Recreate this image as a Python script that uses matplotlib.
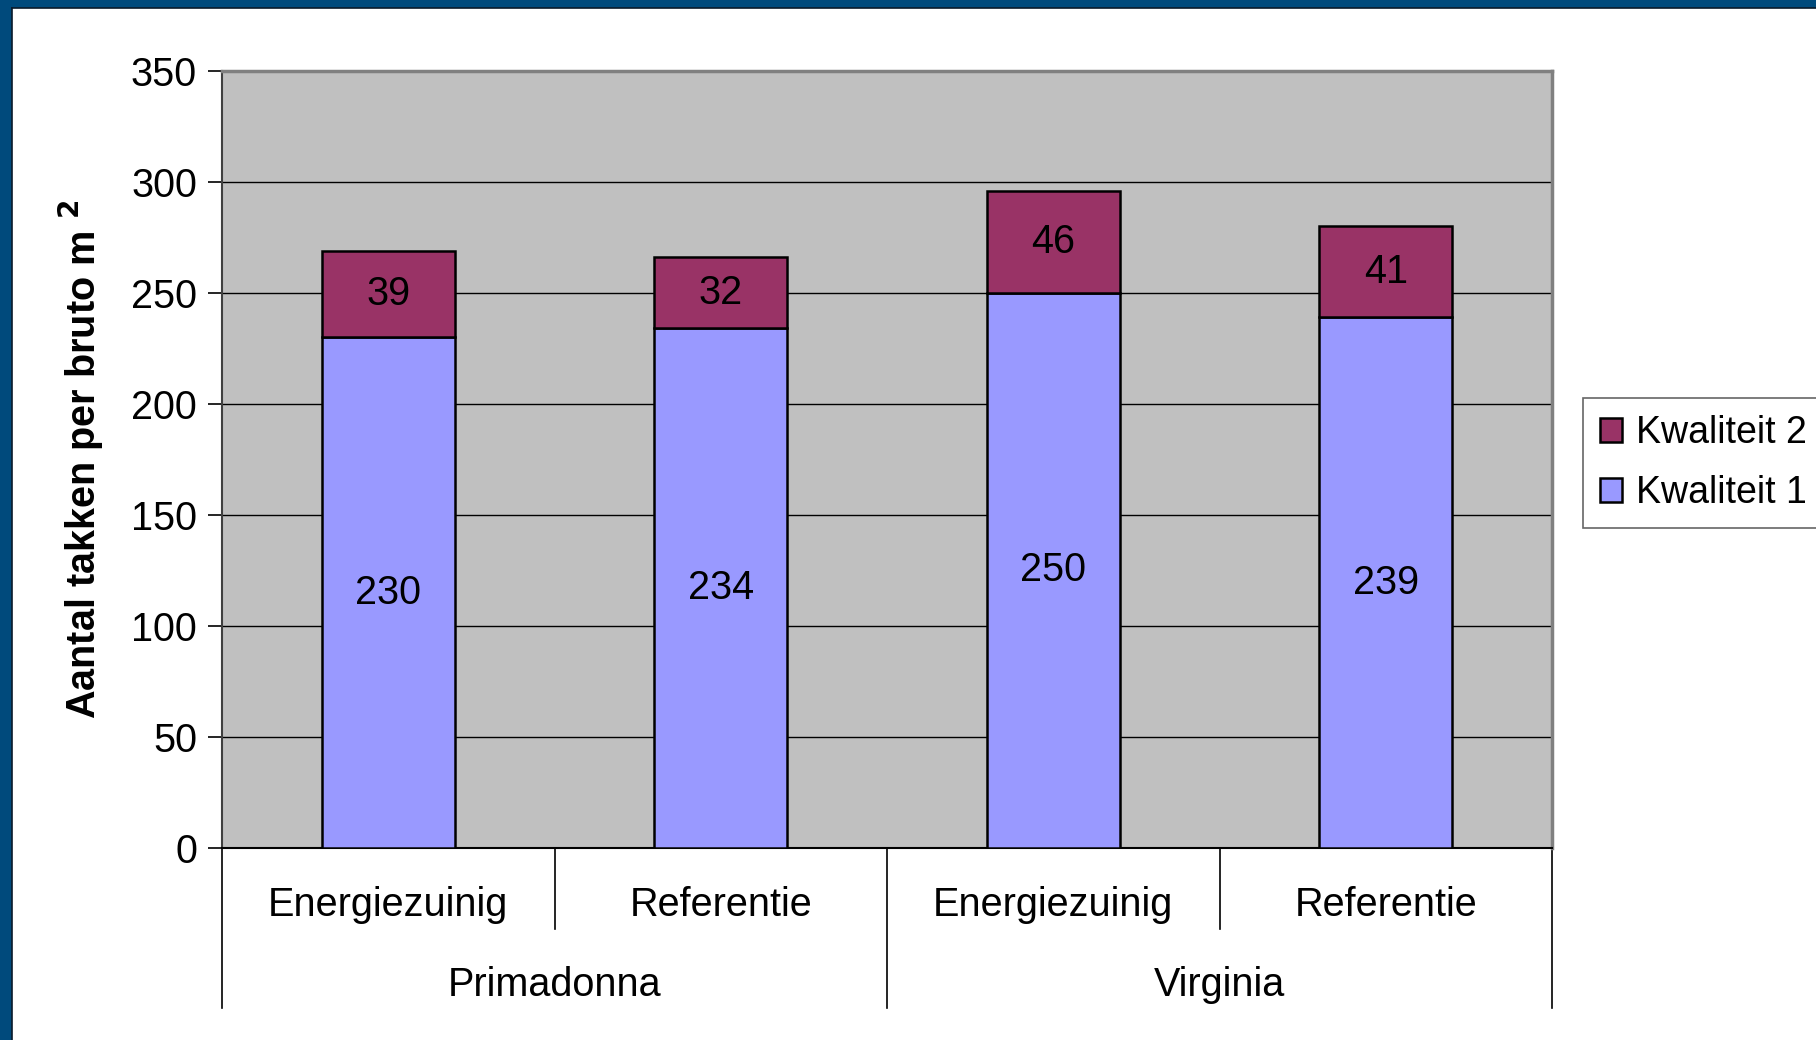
import matplotlib
matplotlib.use("Agg")
import matplotlib.pyplot as plt
import matplotlib.transforms as mtransforms
from matplotlib.patches import Rectangle
import numpy as np

plt.rcParams['font.family'] = ['Liberation Sans', 'DejaVu Sans']

treatments = ["Energiezuinig", "Referentie", "Energiezuinig", "Referentie"]
varieties = ["Primadonna", "Virginia"]
kwaliteit1 = [230, 234, 250, 239]
kwaliteit2 = [39, 32, 46, 41]
series_names = ["Kwaliteit 1", "Kwaliteit 2"]
ylabel = "Aantal takken per bruto m $^{\\mathbf{2}}$"

FS = 28.5
W, H = 1816, 1040
fig = plt.figure(figsize=(W / 100, H / 100), dpi=100)
fig.patch.set_facecolor("white")

# frame border (top and left)
fig.patches.append(Rectangle((0, 1 - 8 / H), 1, 8 / H, transform=fig.transFigure,
                             facecolor="#004A7C", edgecolor="none", zorder=0))
fig.patches.append(Rectangle((0, 0), 12 / W, 1, transform=fig.transFigure,
                             facecolor="#004A7C", edgecolor="none", zorder=0))
fig.lines.append(plt.Line2D([12 / W, 1], [1 - 8 / H, 1 - 8 / H], transform=fig.transFigure,
                            color="#0a1a2a", lw=1.2))
fig.lines.append(plt.Line2D([12 / W, 12 / W], [0, 1 - 8 / H], transform=fig.transFigure,
                            color="#0a1a2a", lw=1.2))

left, right, top, bottom = 222, 1552, 70.7, 848
ax = fig.add_axes([left / W, 1 - bottom / H, (right - left) / W, (bottom - top) / H])
ax.set_facecolor("#C0C0C0")

x = np.arange(len(treatments))
bw = 0.4
b1 = ax.bar(x, kwaliteit1, width=bw, color="#9999FF", edgecolor="black", linewidth=1.8,
            label=series_names[0], zorder=3)
b2 = ax.bar(x, kwaliteit2, width=bw, bottom=kwaliteit1, color="#993366", edgecolor="black",
            linewidth=1.8, label=series_names[1], zorder=3)

for xi, v1, v2 in zip(x, kwaliteit1, kwaliteit2):
    ax.text(xi, v1 / 2, str(v1), ha="center", va="center", fontsize=FS, zorder=4)
    ax.text(xi, v1 + v2 / 2, str(v2), ha="center", va="center", fontsize=FS, zorder=4)

ax.set_xlim(-0.5, len(treatments) - 0.5)
ax.set_ylim(0, 350)
ax.set_yticks(np.arange(0, 351, 50))
ax.tick_params(axis="y", labelsize=FS, length=10, width=1.2, pad=8, direction="out")
ax.set_xticks([])
ax.yaxis.grid(True, color="black", linewidth=1.0, zorder=1)
ax.set_axisbelow(True)

ax.spines["top"].set_color("#808080")
ax.spines["top"].set_linewidth(2.5)
ax.spines["right"].set_color("#808080")
ax.spines["right"].set_linewidth(2.5)
ax.spines["left"].set_color("#404040")
ax.spines["left"].set_linewidth(1.5)
ax.spines["bottom"].set_color("black")
ax.spines["bottom"].set_linewidth(1.5)

ax.set_ylabel(ylabel, fontsize=FS, fontweight="bold", labelpad=18)

# two-level category axis
trans = mtransforms.blended_transform_factory(ax.transData, ax.transAxes)
long_y = -(1008 - bottom) / (bottom - top)
short_y = -(929 - bottom) / (bottom - top)
for xb in [-0.5, 1.5, 3.5]:
    ax.plot([xb, xb], [0, long_y], transform=trans, color="black", lw=1.2, clip_on=False)
for xb in [0.5, 2.5]:
    ax.plot([xb, xb], [0, short_y], transform=trans, color="black", lw=1.2, clip_on=False)

lab1_y = -(905 - bottom) / (bottom - top)
lab2_y = -(985 - bottom) / (bottom - top)
for xi, t in zip(x, treatments):
    ax.text(xi, lab1_y, t, transform=trans, ha="center", va="center", fontsize=FS)
for gi, v in enumerate(varieties):
    ax.text(2 * gi + 0.5, lab2_y, v, transform=trans, ha="center", va="center", fontsize=FS)

handles = [b2, b1]
leg = fig.legend(handles, [series_names[1], series_names[0]], loc="upper left",
                 bbox_to_anchor=(1583 / W, 1 - 398 / H), fontsize=27, frameon=True,
                 fancybox=False, edgecolor="#404040", handlelength=0.6, handleheight=0.6,
                 handletextpad=0.35, borderpad=0.45, labelspacing=0.65, borderaxespad=0)
leg.get_frame().set_linewidth(1.2)

fig.savefig("out.png", dpi=100)
